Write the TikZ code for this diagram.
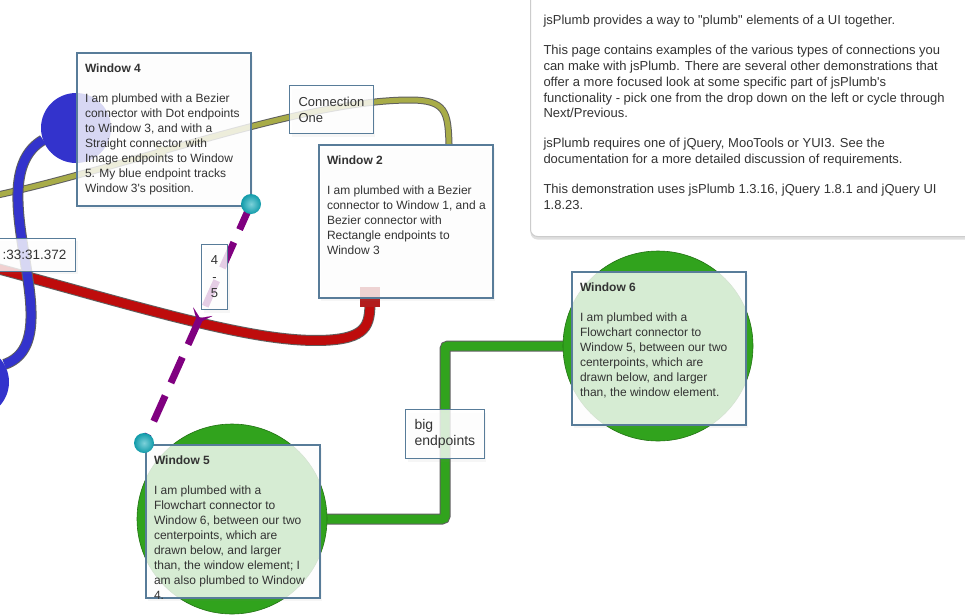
\documentclass[tikz,border=0pt]{standalone}
\usepackage{fontspec}
\setmainfont{Liberation Sans}
\usetikzlibrary{arrows.meta,positioning,calc,shadows,decorations.markings}
\definecolor{plumbedge}{RGB}{88,124,153}
\definecolor{plumbtext}{RGB}{51,51,51}
\definecolor{plumbolive}{RGB}{168,172,72}
\definecolor{plumbred}{RGB}{190,12,12}
\definecolor{plumbblue}{RGB}{51,51,204}
\definecolor{plumbgreen}{RGB}{49,163,29}
\definecolor{plumbpurple}{RGB}{128,0,128}
\definecolor{plumbcyan}{RGB}{18,172,188}
\definecolor{plumbline}{RGB}{95,95,95}
\definecolor{plumbrect}{RGB}{178,30,30}
\pgfdeclarelayer{wires}
\pgfsetlayers{wires,main}
\newcommand{\wintext}[2]{\parbox[t][153pt][t]{174pt}{\fontsize{12}{15}\selectfont\leftskip=8pt\relax
  \vspace*{10.5pt}\textbf{#1}\\[15pt]#2}}
\newcommand{\abouttext}{\parbox[t][276pt][t]{460pt}{\fontsize{13}{15.75}\selectfont\leftskip=13pt\relax
  \vspace*{55pt}jsPlumb provides a way to \textquotedbl plumb\textquotedbl\ elements of a UI together.\\[14.25pt]
  This page contains examples of the various types of connections you\\
  can make with jsPlumb. There are several other demonstrations that\\
  offer a more focused look at some specific part of jsPlumb\textquotesingle s\\
  functionality - pick one from the drop down on the left or cycle through\\
  Next/Previous.\\[14.25pt]
  jsPlumb requires one of jQuery, MooTools or YUI3. See the\\
  documentation for a more detailed discussion of requirements.\\[14.25pt]
  This demonstration uses jsPlumb 1.3.16, jQuery 1.8.1 and jQuery UI\\
  1.8.23.}}
\tikzset{
  window/.style={
    draw=plumbedge,
    line width=2pt,
    fill=white,
    fill opacity=0.8,
    text opacity=1,
    text=plumbtext,
    inner sep=0pt,
    anchor=north west,
    drop shadow={opacity=0.07,shadow xshift=2pt,shadow yshift=-3pt}
  },
  tag/.style={
    draw=plumbedge,
    line width=1pt,
    fill=white,
    fill opacity=0.8,
    text opacity=1,
    text=plumbtext,
    inner xsep=9pt,
    inner ysep=0pt,
    align=left,
    drop shadow={opacity=0.07,shadow xshift=2pt,shadow yshift=-3pt}
  },
  aboutbox/.style={
    draw=black!20,
    line width=1pt,
    fill=white,
    rounded corners=7pt,
    text=plumbtext,
    inner sep=0pt,
    anchor=north west,
    drop shadow={opacity=0.25,shadow xshift=0pt,shadow yshift=-3pt}
  },
  bluedot/.style={circle,fill=plumbblue,minimum size=70pt,inner sep=0pt},
  greendot/.style={circle,fill=plumbgreen,draw=plumbgreen!70!black,line width=0.6pt,minimum size=190pt,inner sep=0pt},
  cyandot/.style={circle,inner color=plumbcyan!55!white,outer color=plumbcyan!90!black,minimum size=20pt,inner sep=0pt},
  redbox/.style={rectangle,fill=plumbrect,minimum size=20pt,inner sep=0pt},
  olivewire/.style={
    line width=5pt,draw=plumbolive,
    preaction={draw=plumbline,line width=7pt},
    postaction={decorate,decoration={markings,
      mark=at position 0.37 with {\arrow[plumbolive]{Stealth[length=14pt,width=22pt,inset=5pt,line width=0.1pt]}}}}
  },
  redwire/.style={line width=9pt,draw=plumbred,preaction={draw=plumbline,line width=11pt}},
  bluewire/.style={line width=9pt,draw=plumbblue,preaction={draw=plumbline,line width=11pt}},
  greenwire/.style={line width=9pt,draw=plumbgreen,rounded corners=3pt,preaction={draw=plumbline,line width=11pt}},
  purplewire/.style={
    line width=7pt,draw=plumbpurple,dash pattern=on 28pt off 14pt,
    postaction={decorate,decoration={markings,
      mark=at position 0.5 with {\arrow[solid,plumbpurple]{Stealth[length=13pt,width=21pt,inset=7pt,line width=0.1pt]}}}}
  }
}
\begin{document}
\begin{tikzpicture}[x=1pt,y=-1pt]
  \useasboundingbox (0,0) rectangle (965,614);
  \node[bluedot] (blue1) at (76,128) {};
  \node[bluedot] (blue2) at (-26,382) {};
  \node[greendot] (green5) at (232,519) {};
  \node[greendot] (green6) at (658,346) {};
  \node[redbox] (redend) at (370,297) {};
  \coordinate (olivesrc) at (-12,197);
  \coordinate (redsrc) at (-12,266);

  \node[window] (win4) at (76,52) {\wintext{Window 4}{I am plumbed with a Bezier\\connector with Dot endpoints\\to Window 3, and with a\\Straight connector with\\Image endpoints to Window\\5. My blue endpoint tracks\\Window 3\textquotesingle s position.}};
  \node[window] (win2) at (318,144) {\wintext{Window 2}{I am plumbed with a Bezier\\connector to Window 1, and a\\Bezier connector with\\Rectangle endpoints to\\Window 3}};
  \node[window] (win6) at (571,271) {\wintext{Window 6}{I am plumbed with a\\Flowchart connector to\\Window 5, between our two\\centerpoints, which are\\drawn below, and larger\\than, the window element.}};
  \node[window] (win5) at (145,444) {\wintext{Window 5}{I am plumbed with a\\Flowchart connector to\\Window 6, between our two\\centerpoints, which are\\drawn below, and larger\\than, the window element; I\\am also plumbed to Window\\4.}};
  \coordinate (oliveend) at ([xshift=43pt]win2.north);

  \node[cyandot] (cyan4) at (251,204) {};
  \node[cyandot] (cyan5) at (144,443) {};

  \node[tag,anchor=north west,minimum height=48pt,font=\fontsize{13}{16}\selectfont] (tagone) at (289,85) {Connection\\One};
  \node[tag,anchor=north west,minimum width=26pt,minimum height=65pt,inner xsep=0pt,align=center,font=\fontsize{13}{16.5}\selectfont] (tagfour) at (201,244) {4\\-\\5};
  \node[tag,anchor=north west,minimum height=49pt,font=\fontsize{14}{16}\selectfont] (tagbig) at (405,409) {big\\endpoints};
  \node[tag,anchor=east,minimum height=33pt,font=\fontsize{13.5}{16}\selectfont] (tagtime) at (76,254.5) {:33:31.372};

  \node[aboutbox] (about) at (530,-40) {\abouttext};

  \begin{pgfonlayer}{wires}
    \fill[white] (0,0) rectangle (965,614);
    \draw[olivewire] (olivesrc) .. controls (120,170) and (300,100) .. (410,100) .. controls (446,100) and (448,112) .. (oliveend);
    \draw[redwire] (redsrc) .. controls (150,310) and (260,345) .. (330,340) .. controls (370,337) and (370,322) .. (redend.center);
    \draw[bluewire] (blue1.200) .. controls (-25,180) and (75,340) .. (blue2.30);
    \draw[greenwire] (green5.center) -| ($(green5.center)!0.5!(green6.center)$) |- (green6.center);
    \draw[purplewire] (cyan4.center) -- (cyan5.center);
  \end{pgfonlayer}
\end{tikzpicture}
\end{document}
